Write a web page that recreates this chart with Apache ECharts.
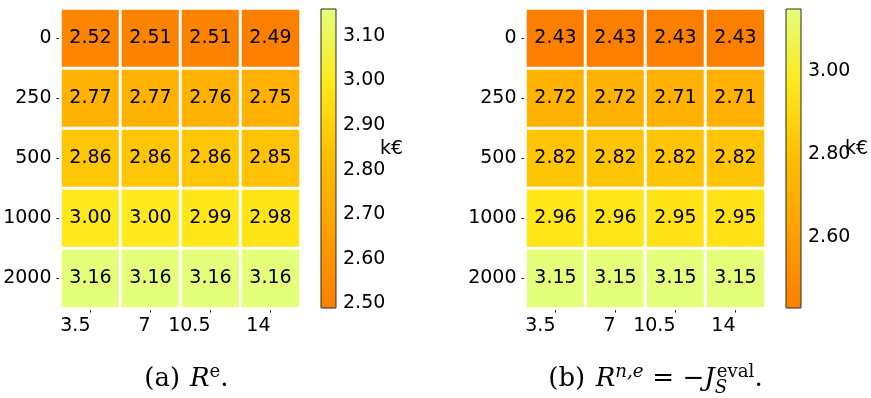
<!DOCTYPE html>
<html>
<head>
<meta charset="utf-8">
<script src="https://cdn.jsdelivr.net/npm/echarts@6/dist/echarts.min.js"></script>
<style>
html,body{margin:0;padding:0;background:#fff;}
#chart{width:871px;height:398px;}
</style>
</head>
<body>
<div id="chart"></div>
<script>
// ---------- data ----------
const xLabels = ['3.5', '7', '10.5', '14'];
const yLabels = ['0', '250', '500', '1000', '2000'];
const valuesA = [
  [2.52, 2.51, 2.51, 2.49],
  [2.77, 2.77, 2.76, 2.75],
  [2.86, 2.86, 2.86, 2.85],
  [3.00, 3.00, 2.99, 2.98],
  [3.16, 3.16, 3.16, 3.16]
];
const valuesB = [
  [2.43, 2.43, 2.43, 2.43],
  [2.72, 2.72, 2.71, 2.71],
  [2.82, 2.82, 2.82, 2.82],
  [2.96, 2.96, 2.95, 2.95],
  [3.15, 3.15, 3.15, 3.15]
];
const cbarTicksA = [2.50, 2.60, 2.70, 2.80, 2.90, 3.00, 3.10];
const cbarTicksB = [2.60, 2.80, 3.00];
const cbarName = 'k€';

// ---------- helpers ----------
const SANS = 'DejaVu Sans';
const SERIF = 'DejaVu Serif';
const wistiaR = ['#fc7f00', '#ffa000', '#ffbd00', '#ffe81a', '#e4ff7a'];

function toCells(vals) {
  const out = [];
  vals.forEach((row, r) => row.forEach((v, c) => out.push([c, r, v])));
  return out;
}
const cellsA = toCells(valuesA);
const cellsB = toCells(valuesB);
const flatA = valuesA.flat(), flatB = valuesB.flat();
const minA = Math.min(...flatA), maxA = Math.max(...flatA);
const minB = Math.min(...flatB), maxB = Math.max(...flatB);

function heatGrid(left) { return { left: left, top: 8.5, width: 240, height: 300 }; }
function cbarGrid(left) {
  return { left: left, top: 9, width: 15, height: 299, show: true,
    borderColor: '#2a2a1a', borderWidth: 1, backgroundColor: 'transparent', z: 10 };
}
function catX(gi) {
  return { type: 'category', gridIndex: gi, data: xLabels, position: 'bottom',
    axisLine: { show: false },
    axisTick: { show: true, alignWithLabel: true, length: 4, lineStyle: { color: '#000', width: 1 } },
    axisLabel: { fontFamily: SANS, fontSize: 19, color: '#000', align: 'right', margin: 8 },
    splitLine: { show: false } };
}
function catY(gi) {
  return { type: 'category', gridIndex: gi, data: yLabels, inverse: true,
    axisLine: { show: false },
    axisTick: { show: true, alignWithLabel: true, length: 4, lineStyle: { color: '#000', width: 1 } },
    axisLabel: { fontFamily: SANS, fontSize: 19, color: '#000', margin: 9 },
    splitLine: { show: false } };
}
function cbX(gi) { return { type: 'value', gridIndex: gi, show: false, min: 0, max: 1 }; }
function cbY(gi, mn, mx, ticks) {
  return { type: 'value', gridIndex: gi, min: mn, max: mx, position: 'right',
    axisLine: { show: false }, splitLine: { show: false },
    axisTick: { show: true, length: 4, customValues: ticks, lineStyle: { color: '#000', width: 1 } },
    axisLabel: { show: true, customValues: ticks, formatter: v => v.toFixed(2),
      fontFamily: SANS, fontSize: 19, color: '#000', margin: 7 },
    name: cbarName, nameLocation: 'middle', nameRotate: 0, nameGap: 44, nameMoveOverlap: false,
    nameTextStyle: { fontFamily: SANS, fontSize: 19, color: '#000', align: 'left', verticalAlign: 'bottom' } };
}
function heatSeries(xi, yi, data) {
  return { type: 'heatmap', xAxisIndex: xi, yAxisIndex: yi, data: data,
    itemStyle: { borderColor: '#fff', borderWidth: 3 },
    label: { show: true, formatter: p => p.value[2].toFixed(2), fontFamily: SANS, fontSize: 19, color: '#000' },
    emphasis: { disabled: true } };
}
function vmap(si, mn, mx, left) {
  return { type: 'continuous', seriesIndex: si, dimension: 2, min: mn, max: mx,
    inRange: { color: wistiaR }, calculable: false, hoverLink: false, orient: 'vertical',
    align: 'left', left: left, top: 9, itemWidth: 15, itemHeight: 299, padding: 0, itemGap: 0 };
}

// ---------- caption layout (math-like) ----------
const mctx = document.createElement('canvas').getContext('2d');
function fontStr(size, italic) { return (italic ? 'italic ' : '') + size + 'px "' + SERIF + '"'; }
function measure(t, size, italic) { mctx.font = fontStr(size, italic); return mctx.measureText(t).width; }
function caption(segs, cx, baseY, F) {
  const items = [];
  let x = 0;
  segs.forEach(s => {
    if (s.space !== undefined) { x += s.space * F; return; }
    if (s.stack) {
      const ss = F * 0.7;
      const w1 = measure(s.sup, ss, s.supIt), w2 = measure(s.sub, ss, s.subIt);
      items.push({ t: s.sup, x: x + (s.supKern || 0) * F, size: ss, it: s.supIt, base: baseY - 0.40 * F });
      items.push({ t: s.sub, x: x, size: ss, it: s.subIt, base: baseY + 0.22 * F });
      x += Math.max(w1 + (s.supKern || 0) * F, w2);
      return;
    }
    const size = s.sup ? F * 0.7 : F;
    const base = s.sup ? baseY - 0.40 * F : baseY;
    items.push({ t: s.t, x: x, size: size, it: s.it, base: base });
    x += measure(s.t, size, s.it);
  });
  const left = cx - x / 2;
  return items.map(it => ({
    type: 'text', x: left + it.x, y: it.base - 0.36 * it.size, silent: true,
    style: { text: it.t, fill: '#000', font: fontStr(it.size, it.it), textAlign: 'left', textVerticalAlign: 'middle' }
  }));
}
const CF = 26;
const capA = caption([
  { t: '(a)' }, { space: 0.38 }, { t: 'R', it: true }, { t: 'e', sup: true }, { t: '.' }
], 186.5, 389, CF);
const capB = caption([
  { t: '(b)' }, { space: 0.4 }, { t: 'R', it: true }, { t: 'n,e', sup: true, it: true },
  { space: 0.34 }, { t: '=' }, { space: 0.32 }, { t: '−' }, { t: 'J', it: true },
  { stack: true, sup: 'eval', supIt: false, sub: 'S', subIt: true, supKern: 0.08 }, { t: '.' }
], 655.5, 389, CF);

// ---------- chart ----------
const chart = echarts.init(document.getElementById('chart'), null, { renderer: 'canvas' });
chart.setOption({
  animation: false,
  backgroundColor: '#fff',
  textStyle: { fontFamily: SANS },
  grid: [heatGrid(60.5), cbarGrid(321), heatGrid(525.5), cbarGrid(786)],
  xAxis: [catX(0), cbX(1), catX(2), cbX(3)],
  yAxis: [catY(0), cbY(1, minA, maxA, cbarTicksA), catY(2), cbY(3, minB, maxB, cbarTicksB)],
  visualMap: [vmap(0, minA, maxA, 321), vmap(1, minB, maxB, 786)],
  series: [heatSeries(0, 0, cellsA), heatSeries(2, 2, cellsB)],
  graphic: capA.concat(capB)
});
</script>
</body>
</html>
